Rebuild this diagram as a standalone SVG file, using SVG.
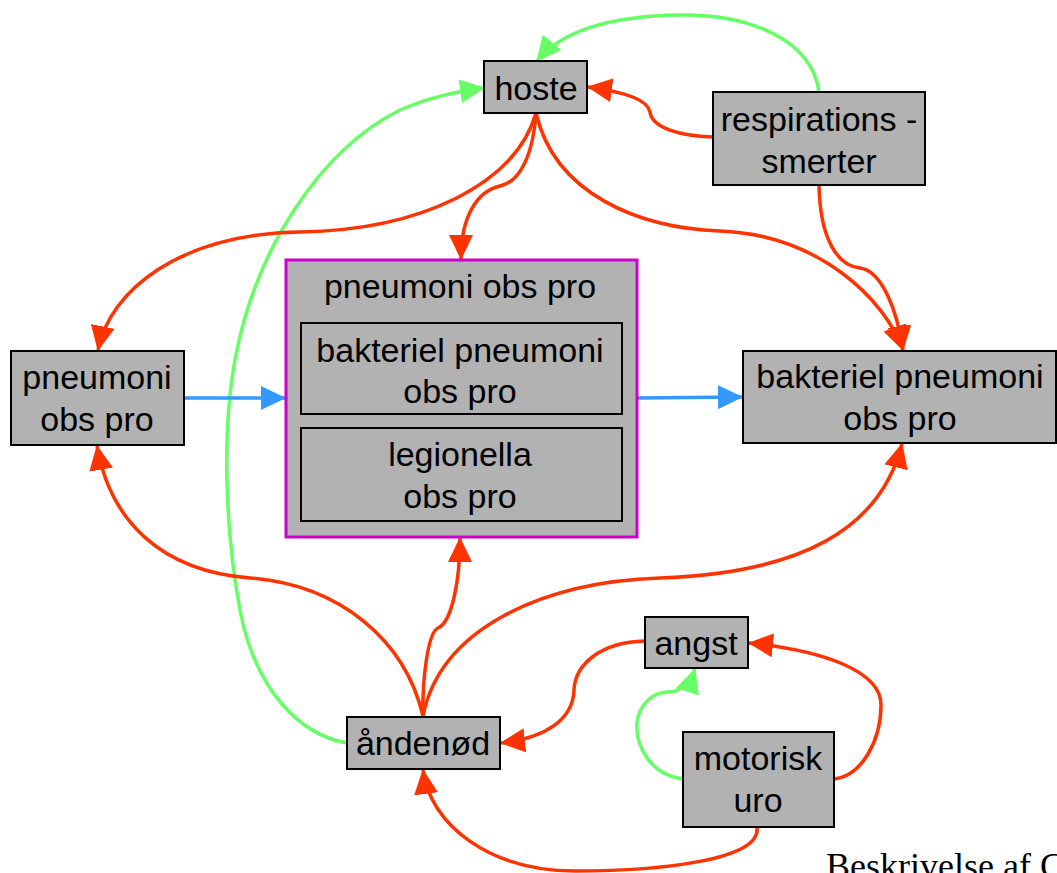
<svg xmlns="http://www.w3.org/2000/svg" width="1057" height="873" viewBox="0 0 1057 873">
<style>
.node rect{fill:#b2b2b2;stroke:#000;stroke-width:2}
.grp{fill:#b2b2b2;stroke:#cc00cc;stroke-width:3}
text{font-family:"Liberation Sans",Arial,sans-serif;font-size:34px;fill:#000;text-anchor:middle}
.e{fill:none;stroke-width:3.5}
.r{stroke:#ff3300;marker-end:url(#ar)}
.g{stroke:#66ff66;marker-end:url(#ag)}
.b{stroke:#3399ff;marker-end:url(#ab)}
</style>
<defs>
<marker id="ar" markerUnits="userSpaceOnUse" markerWidth="25" markerHeight="24" viewBox="0 0 25 24" refX="24" refY="12" orient="auto"><path d="M0,0 L25,12 L0,24 z" fill="#ff3300"/></marker>
<marker id="ag" markerUnits="userSpaceOnUse" markerWidth="25" markerHeight="24" viewBox="0 0 25 24" refX="24" refY="12" orient="auto"><path d="M0,0 L25,12 L0,24 z" fill="#66ff66"/></marker>
<marker id="ab" markerUnits="userSpaceOnUse" markerWidth="25" markerHeight="24" viewBox="0 0 25 24" refX="24" refY="12" orient="auto"><path d="M0,0 L25,12 L0,24 z" fill="#3399ff"/></marker>
</defs>
<rect width="1057" height="873" fill="#fff"/>
<g id="connectors">
<path class="e g" d="M819,92 C812,40 750,14 680,15 C610,16 562,30 537,61"/>
<path class="e r" d="M713,137 C680,136 652,128 650,112 C648,100 625,92 588,87"/>
<path class="e g" d="M347,743 C300,735 255,690 240,610 C225,530 222,430 235,360 C255,250 320,150 400,110 C430,97 455,92 484,88"/>
<path class="e r" d="M536,113 C533,155 520,182 500,186 C478,191 461,215 461,259"/>
<path class="e r" d="M536,113 C515,185 420,230 300,232 C180,234 110,290 98,350"/>
<path class="e r" d="M536,113 C555,195 640,228 720,231 C820,235 885,300 903,350"/>
<path class="e r" d="M819,185 C820,240 838,266 860,268 C882,271 897,310 903,350"/>
<path class="e b" d="M184,398 L285,398"/>
<path class="e b" d="M638,398 L742,397"/>
<path class="e r" d="M423,716 C405,640 340,585 250,578 C160,571 110,520 97,446"/>
<path class="e r" d="M423,716 C422,680 428,632 438,628 C452,622 460,580 460,538"/>
<path class="e r" d="M423,716 C440,630 540,582 660,578 C800,573 880,530 902,444"/>
<path class="e r" d="M645,641 C600,642 575,665 574,690 C573,720 545,738 501,743"/>
<path class="e g" d="M683,779 C650,775 635,745 637,722 C640,702 655,692 668,692 C680,692 690,684 695,669"/>
<path class="e r" d="M834,779 C862,776 881,740 881,705 C881,670 820,650 749,643"/>
<path class="e r" d="M757,827 C762,860 660,871 575,871 C490,871 430,825 423,770"/>
</g>
<g id="hoste" class="node"><rect x="484" y="61" width="103" height="52"/><text x="536" y="100">hoste</text></g>
<g id="respirationssmerter" class="node"><rect x="713" y="92" width="212" height="93"/><text x="819" y="131">respirations -</text><text x="819" y="173">smerter</text></g>
<g id="pneumoni-left" class="node"><rect x="11" y="351" width="173" height="94"/><text x="97" y="389">pneumoni</text><text x="97" y="431">obs pro</text></g>
<g id="pneumoni-group">
<rect class="grp" x="286" y="260" width="351" height="277"/>
<text x="460" y="298">pneumoni obs pro</text>
<g id="bakteriel-inner" class="node"><rect x="301" y="323" width="321" height="91"/><text x="460" y="362">bakteriel pneumoni</text><text x="460" y="403">obs pro</text></g>
<g id="legionella" class="node"><rect x="301" y="428" width="321" height="93"/><text x="460" y="466">legionella</text><text x="460" y="508">obs pro</text></g>
</g>
<g id="bakteriel-right" class="node"><rect x="743" y="351" width="313" height="92"/><text x="900" y="388">bakteriel pneumoni</text><text x="900" y="430">obs pro</text></g>
<g id="angst" class="node"><rect x="645" y="617" width="103" height="51"/><text x="696" y="655">angst</text></g>
<g id="aandenoed" class="node"><rect x="347" y="717" width="153" height="52"/><text x="423" y="755">åndenød</text></g>
<g id="motorisk" class="node"><rect x="683" y="732" width="151" height="95"/><text x="758" y="770">motorisk</text><text x="758" y="812">uro</text></g>
<text x="826" y="878" style="font-family:'Liberation Serif','Times New Roman',serif;font-size:36px;text-anchor:start">Beskrivelse af C</text>
</svg>
